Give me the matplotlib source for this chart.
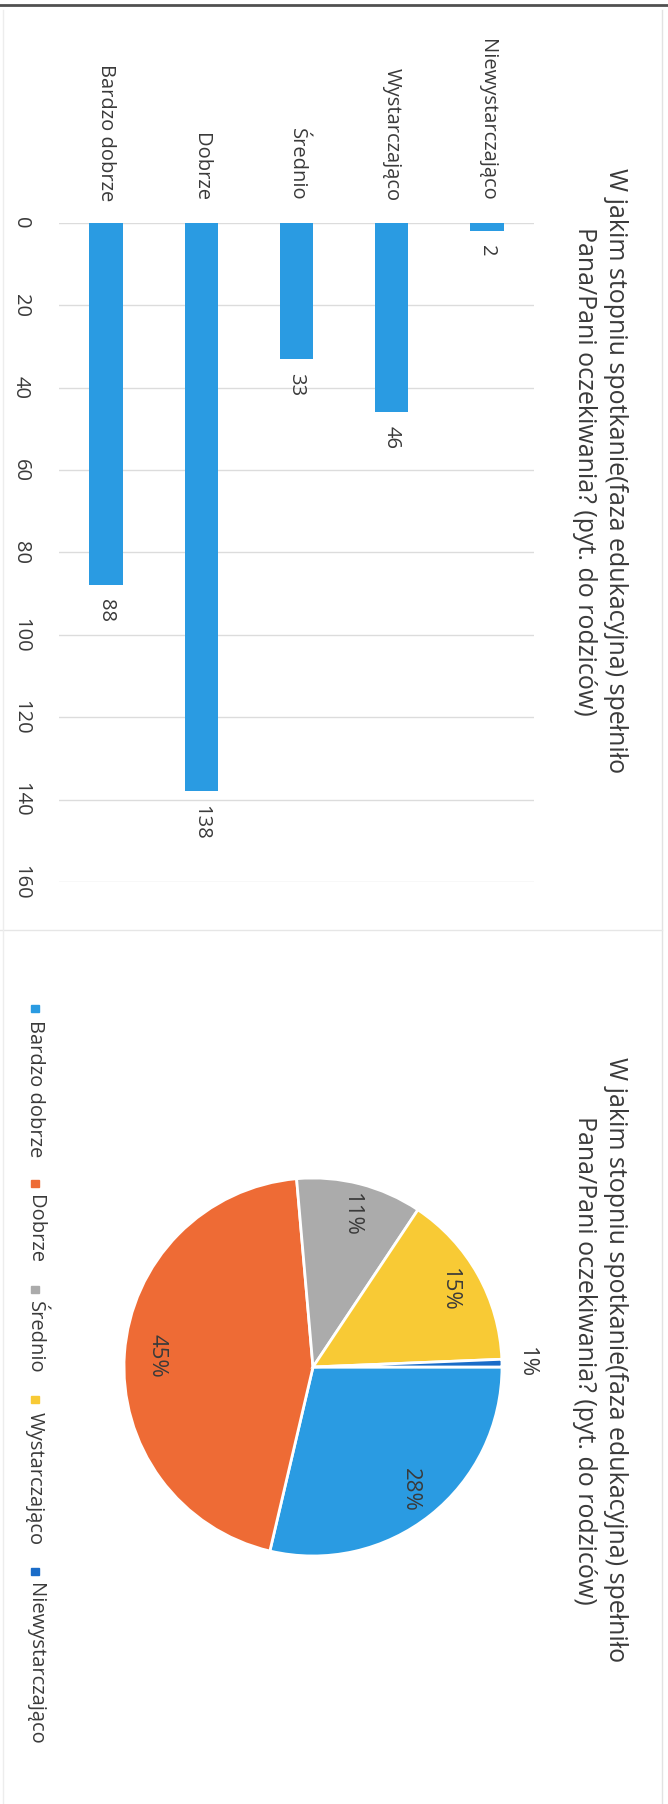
import matplotlib
matplotlib.use('Agg')

import numpy as np
import matplotlib.pyplot as plt
from matplotlib.lines import Line2D
from matplotlib.patches import Rectangle

plt.rcParams['font.family'] = ['Open Sans', 'DejaVu Sans']

# data (page is rotated 90 degrees clockwise)
categories = ['Bardzo dobrze', 'Dobrze', 'Średnio', 'Wystarczająco', 'Niewystarczająco']
counts = [88, 138, 33, 46, 2]
pie_labels = ['28%', '45%', '11%', '15%', '1%']
value_ticks = [0, 20, 40, 60, 80, 100, 120, 140, 160]
title = 'W jakim stopniu spotkanie(faza edukacyjna) spełniło\nPana/Pani oczekiwania? (pyt. do rodziców)'

bar_color = '#2A9BE2'
pie_colors = ['#2A9BE2', '#EE6B35', '#ABABAB', '#F8CA35', '#1A6CC8']
text_color = '#3A3A3A'

W, H = 668, 1804
fig = plt.figure(figsize=(W / 100, H / 100), dpi=100)
fig.patch.set_facecolor('white')


def box(x0, y0, x1, y1):
    # pixel box (top-left origin) -> figure fraction rect
    return [x0 / W, 1 - y1 / H, (x1 - x0) / W, (y1 - y0) / H]


# page frame lines
fig.add_artist(Line2D([0, 1], [1 - 5 / H, 1 - 5 / H], transform=fig.transFigure, color='#505050', lw=2))
fig.add_artist(Line2D([662 / W, 662 / W], [0, 1 - 10 / H], transform=fig.transFigure, color='#E2E2E2', lw=1))
fig.add_artist(Line2D([0, 662 / W], [1 - 930 / H, 1 - 930 / H], transform=fig.transFigure, color='#E6E6E6', lw=1))
fig.add_artist(Line2D([3 / W, 3 / W], [0, 1 - 10 / H], transform=fig.transFigure, color='#EDEDED', lw=1))

# ---- bar chart (drawn rotated: values grow downwards) ----
ax = fig.add_axes(box(58.5, 223, 534.5, 882))
x = np.arange(len(categories))
ax.bar(x, counts, width=0.35, color=bar_color, zorder=2)
ax.set_xlim(-0.5, len(categories) - 0.5)
ax.set_ylim(160, 0)
ax.xaxis.tick_top()
ax.set_xticks(x, categories, rotation=-90, fontsize=14.5, color=text_color)
ax.set_yticks(value_ticks, [str(v) for v in value_ticks], rotation=-90, va='center',
              fontsize=14.5, color=text_color)
ax.tick_params(axis='x', length=0, pad=16)
ax.tick_params(axis='y', length=0, pad=20)
ax.yaxis.grid(True, color='#DCDCDC', lw=1)
ax.set_axisbelow(True)
for s in ax.spines.values():
    s.set_visible(False)
for i, v in enumerate(counts):
    ax.annotate(str(v), (i, v), xytext=(0, -10), textcoords='offset points',
                rotation=-90, ha='center', va='top', fontsize=14.5, color=text_color)

fig.text(600 / W, 1 - 471 / H, title, rotation=-90, ha='center', va='center',
         multialignment='center', fontsize=18, linespacing=1.35, color=text_color)

# ---- pie chart ----
ax2 = fig.add_axes(box(313 - 189, 1367 - 189, 313 + 189, 1367 + 189))
wedges, _ = ax2.pie(counts, colors=pie_colors, startangle=0, counterclock=False,
                    wedgeprops=dict(edgecolor='white', linewidth=2))
ax2.set_xlim(-1, 1)
ax2.set_ylim(-1, 1)
for w, lab in zip(wedges, pie_labels):
    mid = np.deg2rad((w.theta1 + w.theta2) / 2)
    r = 1.13 if (w.theta2 - w.theta1) < 10 else 0.83
    ax2.text(r * np.cos(mid), r * np.sin(mid), lab, rotation=-90, ha='center', va='center',
             fontsize=16, color=text_color)

fig.text(600 / W, 1 - 1360 / H, title, rotation=-90, ha='center', va='center',
         multialignment='center', fontsize=18, linespacing=1.35, color=text_color)

# legend, laid out along the page (rotated)
renderer = fig.canvas.get_renderer()
cursor = 1008
for lab, col in zip(categories, pie_colors):
    fig.add_artist(Rectangle(((35 - 3.5) / W, 1 - (cursor + 3.5) / H), 7 / W, 7 / H,
                             transform=fig.transFigure, color=col))
    t = fig.text(35 / W, 1 - (cursor + 12) / H, lab, rotation=-90, ha='center', va='top',
                 fontsize=14.5, color=text_color)
    ext = t.get_window_extent(renderer)
    cursor = cursor + 12 + ext.height + 26

fig.savefig('out.png', dpi=100, facecolor='white')
